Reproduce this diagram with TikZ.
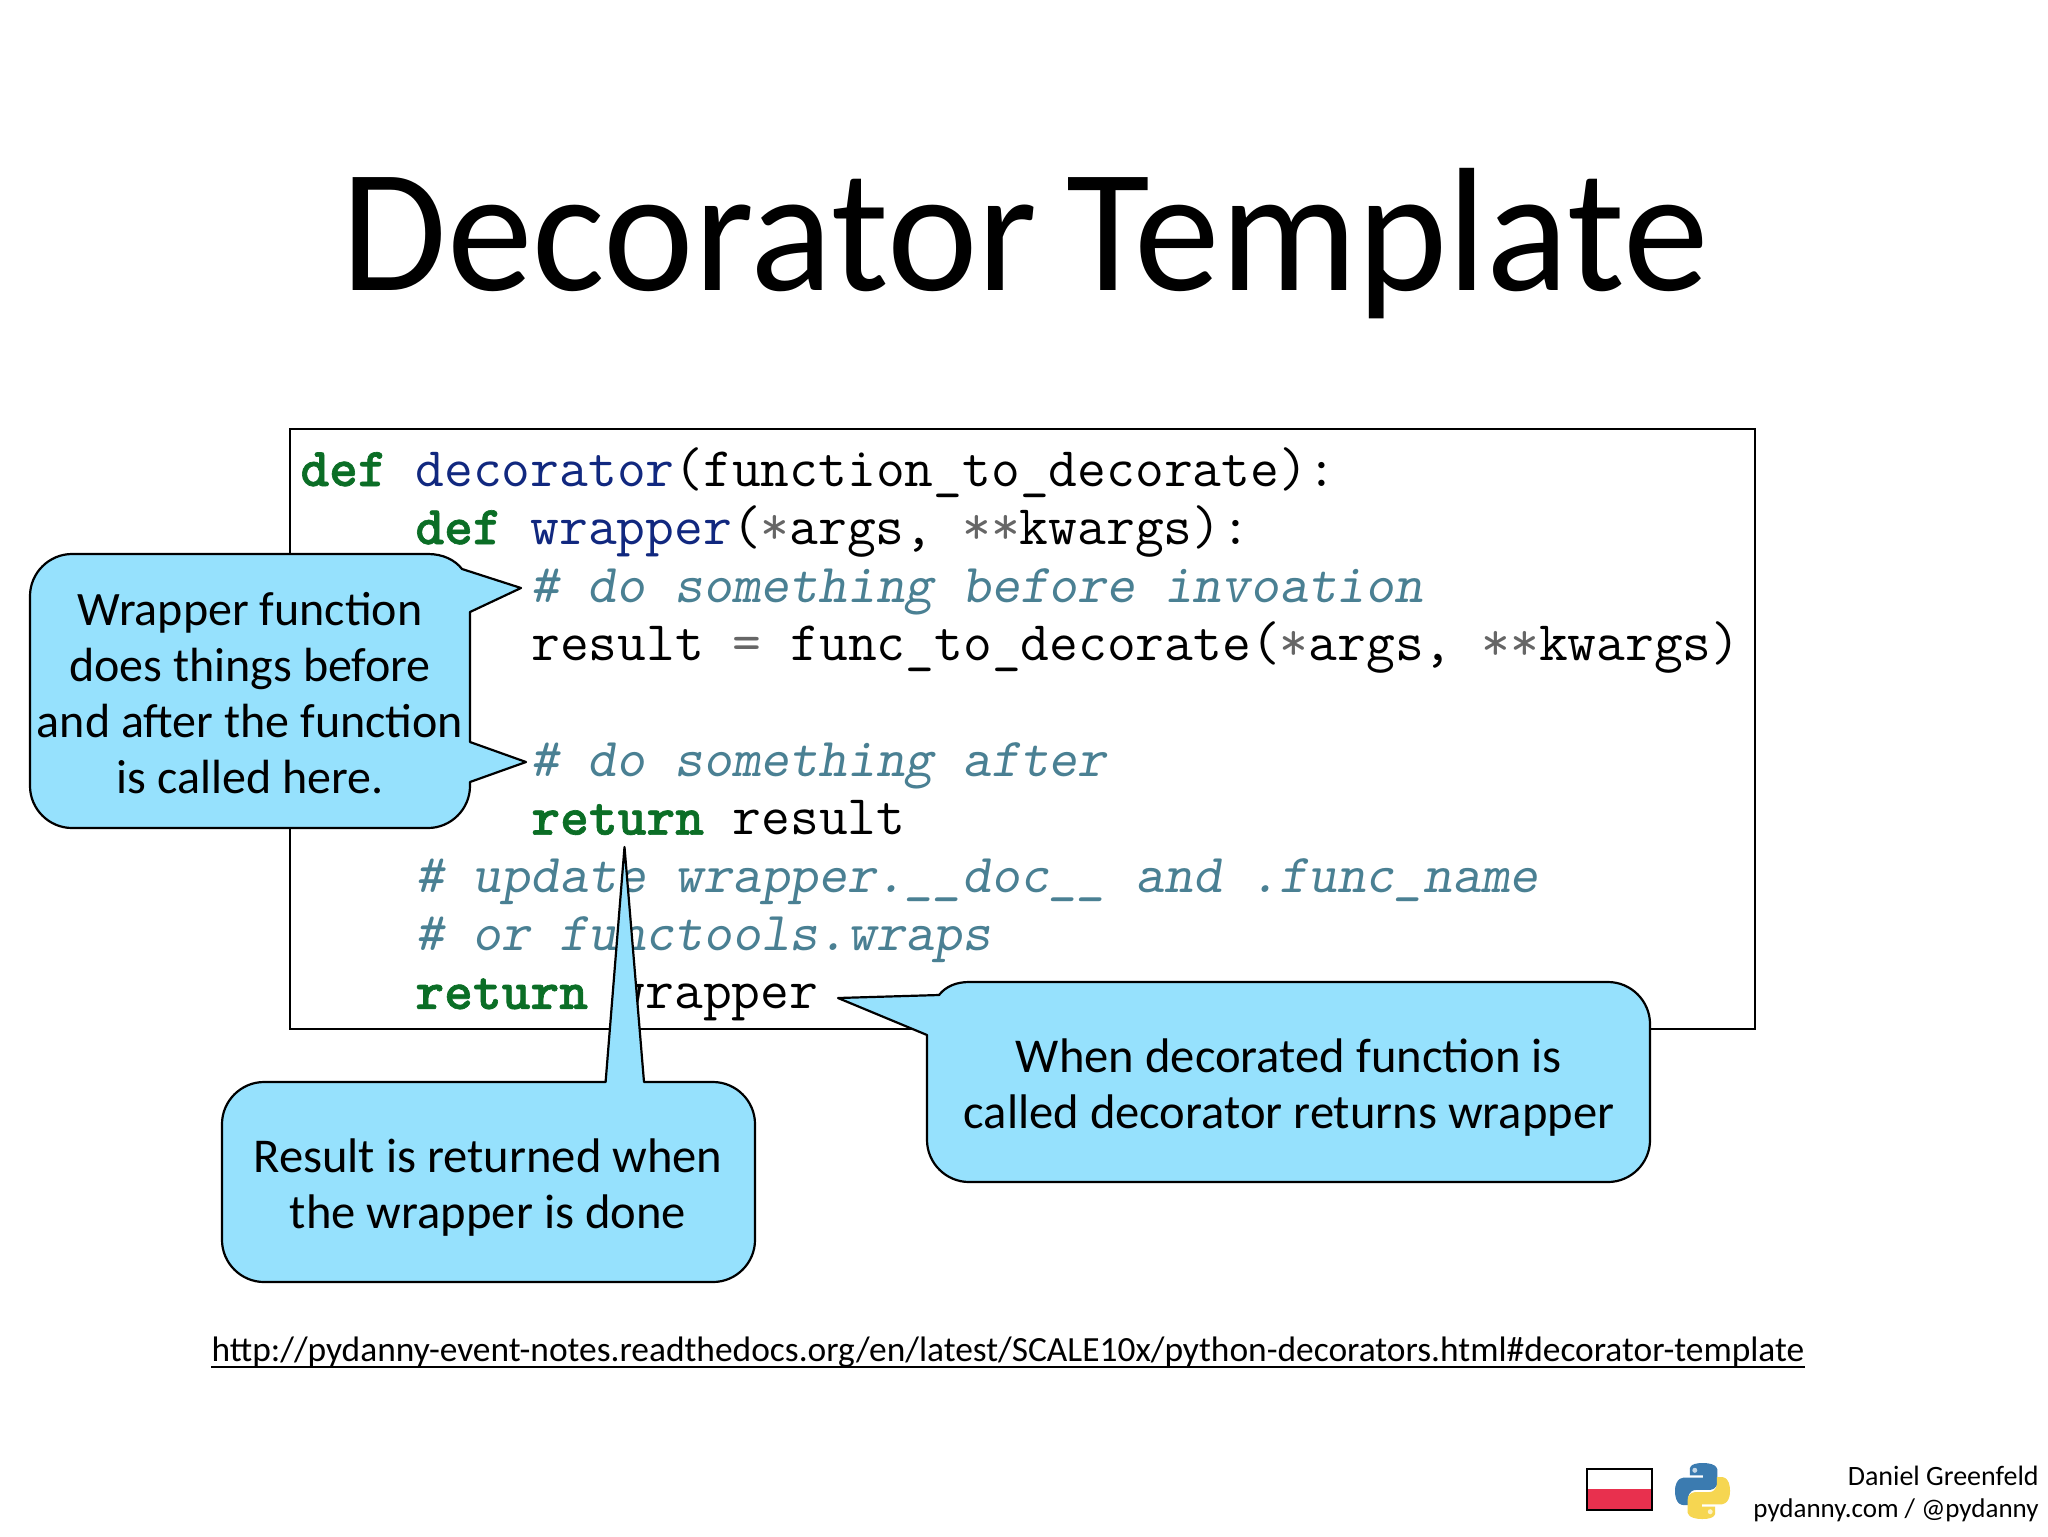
\documentclass[tikz,border=0pt]{standalone}
\usepackage{fontspec}
\setmainfont{Carlito}
\definecolor{kw}{HTML}{0B6E26}
\definecolor{fn}{HTML}{11287F}
\definecolor{cm}{HTML}{4A8093}
\definecolor{op}{HTML}{666666}
\definecolor{bubble}{HTML}{96E1FD}
\definecolor{flagred}{HTML}{E8304E}
\definecolor{pyblue}{HTML}{3B7BB0}
\definecolor{pyyellow}{HTML}{F6D651}
\font\kwfont="[lmmonolt10-bold.otf]:embolden=1.2" at 27.4pt
\newcommand{\K}[1]{{\color{kw}\kwfont #1}}
\newcommand{\F}[1]{{\color{fn}#1}}
\newcommand{\C}[1]{{\color{cm}\fontsize{27.43}{30}\selectfont\slshape #1}}
\newcommand{\Op}[1]{{\color{op}#1}}
\tikzset{
  codeline/.style={anchor=base west,inner sep=0pt,font=\ttfamily\fontsize{27.95}{30}\selectfont},
  bubbleshape/.style={draw=black,fill=bubble,line width=1.1pt,line join=round},
  bubbletext/.style={inner sep=0pt,align=center,font=\fontsize{24.3}{28}\selectfont},
  footer/.style={anchor=base east,inner sep=0pt},
}
\begin{document}
\begin{tikzpicture}[x=0.5pt,y=-0.5pt]
\useasboundingbox (0,0) rectangle (2048,1536);
\fill[white] (0,0) rectangle (2048,1536);
\node[anchor=base,inner sep=0pt,font=\fontsize{88}{100}\selectfont] (title) at (1025,290) {\scalebox{0.975}[1]{Decorator\hspace{-5pt} Template}};
\draw[black,line width=1pt] (290,428.5) rectangle (1755,1029);
\node[codeline] (l0) at (300,486) {\K{def} \F{decorator}(function\_to\_decorate):};
\node[codeline] (l1) at (415,544.1) {\K{def} \F{wrapper}(\Op{*}args, \Op{**}kwargs):};
\node[codeline] (l2) at (530,602.2) {\C{\# do something before invoation}};
\node[codeline] (l3) at (531,660.3) {result \Op{=} func\_to\_decorate(\Op{*}args, \Op{**}kwargs)};
\node[codeline] (l5) at (530,776.5) {\C{\# do something after}};
\node[codeline] (l6) at (531,834.6) {\K{return} result};
\node[codeline] (l7) at (415,892.7) {\C{\# update wrapper.\_\_doc\_\_ and .func\_name}};
\node[codeline] (l8) at (415,950.8) {\C{\# or functools.wraps}};
\node[codeline] (l9) at (415,1008.9) {\K{return} wrapper};
% left callout
\draw[bubbleshape] (72,554) -- (428,554) .. controls (443,554) and (455,560) .. (462,569) -- (521,588) -- (470,612) -- (470,742) -- (526,762) -- (470,782) -- (470,786) .. controls (470,809) and (451,828) .. (428,828) -- (72,828) .. controls (49,828) and (30,809) .. (30,786) -- (30,596) .. controls (30,573) and (49,554) .. (72,554) -- cycle;
\node[bubbletext,font=\fontsize{24}{28}\selectfont] (leftt) at (250,693.5) {Wrapper function\\does things before\\and after the function\\is called here.};
% bottom callout
\draw[bubbleshape] (264,1082) -- (605.6,1082) -- (624.5,847) -- (644,1082) -- (713,1082) .. controls (736,1082) and (755,1101) .. (755,1124) -- (755,1240) .. controls (755,1263) and (736,1282) .. (713,1282) -- (264,1282) .. controls (241,1282) and (222,1263) .. (222,1240) -- (222,1124) .. controls (222,1101) and (241,1082) .. (264,1082) -- cycle;
\node[bubbletext] (bott) at (488,1187.5) {Result is returned when\\the wrapper is done};
% right callout
\draw[bubbleshape] (939,995) .. controls (946,986) and (957,982) .. (969,982) -- (1608,982) .. controls (1631,982) and (1650,1001) .. (1650,1024) -- (1650,1140) .. controls (1650,1163) and (1631,1182) .. (1608,1182) -- (969,1182) .. controls (946,1182) and (927,1163) .. (927,1140) -- (927,1035) -- (838,998) -- cycle;
\node[bubbletext] (rightt) at (1289,1087.5) {When decorated function is\\called decorator returns wrapper};
% url
\node[anchor=base,inner sep=0pt,font=\fontsize{17.7}{20}\selectfont] (url) at (1008,1361) {http://pydanny-event-notes.readthedocs.org/en/latest/SCALE10x/python-decorators.html\#decorator-template};
\draw[black,line width=0.9pt] ([yshift=-3pt]url.base west) -- ([yshift=-3pt]url.base east);
% footer
\node[footer,font=\fontsize{14}{16}\selectfont] (f1) at (2039,1485) {Daniel Greenfeld};
\node[footer,font=\fontsize{13.5}{16}\selectfont] (f2) at (2039,1517) {pydanny.com / @pydanny};
% flag
\fill[white] (1587,1469) rectangle (1652,1489);
\fill[flagred] (1587,1489) rectangle (1652,1510);
\draw[black,line width=0.8pt] (1587,1469) rectangle (1652,1510);
% python logo
\begin{scope}[shift={(1675,1463)},x=0.275pt,y=-0.28pt]
\fill[pyblue] (50,0) .. controls (25,0) and (27,11) .. (27,11) -- (27,22) -- (51,22) -- (51,26) -- (18,26) .. controls (18,26) and (0,24) .. (0,50) .. controls (0,76) and (15,75) .. (15,75) -- (24,75) -- (24,63) .. controls (24,63) and (23.5,48) .. (39,48) -- (63,48) .. controls (63,48) and (77,48) .. (77,34) -- (77,13) .. controls (77,13) and (79,0) .. (50,0) -- cycle;
\fill[white!70!pyblue] (36,13) circle[radius=4.5];
\fill[pyyellow] (50,100) .. controls (75,100) and (73,89) .. (73,89) -- (73,78) -- (49,78) -- (49,74) -- (82,74) .. controls (82,74) and (100,76) .. (100,50) .. controls (100,24) and (85,25) .. (85,25) -- (76,25) -- (76,37) .. controls (76,37) and (76.5,52) .. (61,52) -- (37,52) .. controls (37,52) and (23,52) .. (23,66) -- (23,87) .. controls (23,87) and (21,100) .. (50,100) -- cycle;
\fill[white!70!pyyellow] (64,87) circle[radius=4.5];
\end{scope}
\end{tikzpicture}
\end{document}
